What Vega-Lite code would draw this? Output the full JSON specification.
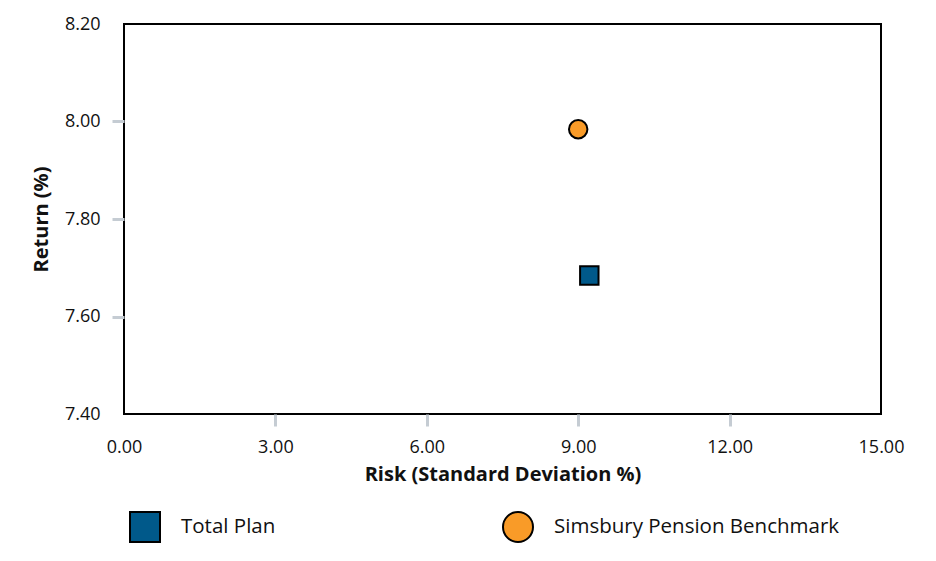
{
  "$schema": "https://vega.github.io/schema/vega-lite/v6.json",
  "autosize": "none",
  "width": 757,
  "height": 390,
  "padding": {"left": 124, "top": 24, "right": 55, "bottom": 147},
  "background": "white",
  "config": {
    "font": "Open Sans",
    "view": {"stroke": "black", "strokeWidth": 2},
    "axis": {
      "domain": false,
      "grid": false,
      "labelFont": "Open Sans",
      "labelFontSize": 18,
      "labelColor": "#111111",
      "labelFlush": false,
      "titleFont": "Open Sans",
      "titleFontSize": 20,
      "titleFontWeight": "bold",
      "titleColor": "#111111",
      "tickWidth": 3,
      "tickSize": 12
    }
  },
  "data": {
    "values": [
      {"series": "Total Plan", "risk": 9.22, "ret": 7.684},
      {"series": "Simsbury Pension Benchmark", "risk": 9.0, "ret": 7.984}
    ]
  },
  "mark": {"type": "point", "filled": true, "stroke": "black", "strokeWidth": 2, "opacity": 1, "size": 340},
  "encoding": {
    "x": {
      "field": "risk", "type": "quantitative",
      "scale": {"domain": [0, 15], "nice": false, "zero": false},
      "axis": {
        "title": "Risk (Standard Deviation %)",
        "values": [0, 3, 6, 9, 12, 15],
        "format": ".2f",
        "labelPadding": 12,
        "titlePadding": 8,
        "tickColor": {"condition": {"test": "datum.value == 0 || datum.value == 15", "value": "transparent"}, "value": "#c5ccd3"}
      }
    },
    "y": {
      "field": "ret", "type": "quantitative",
      "scale": {"domain": [7.4, 8.2], "nice": false, "zero": false},
      "axis": {
        "title": "Return (%)",
        "values": [7.4, 7.6, 7.8, 8.0, 8.2],
        "format": ".2f",
        "labelPadding": 12,
        "titlePadding": 13,
        "tickColor": {"condition": {"test": "datum.value < 7.41 || datum.value > 8.19", "value": "transparent"}, "value": "#c5ccd3"}
      }
    },
    "color": {
      "field": "series", "type": "nominal",
      "scale": {"domain": ["Total Plan", "Simsbury Pension Benchmark"], "range": ["#00598A", "#F99B28"]},
      "legend": {
        "title": null,
        "orient": "bottom",
        "direction": "horizontal",
        "columns": 2,
        "offset": 22,
        "padding": 5,
        "symbolSize": 900,
        "symbolStrokeWidth": 2,
        "symbolStrokeColor": "black",
        "symbolOpacity": 1,
        "labelFont": "Open Sans",
        "labelFontSize": 20.5,
        "labelColor": "#111111",
        "labelOffset": 20,
        "labelLimit": 500,
        "columnPadding": 223
      }
    },
    "shape": {
      "field": "series", "type": "nominal",
      "scale": {"domain": ["Total Plan", "Simsbury Pension Benchmark"], "range": ["square", "circle"]}
    }
  }
}
